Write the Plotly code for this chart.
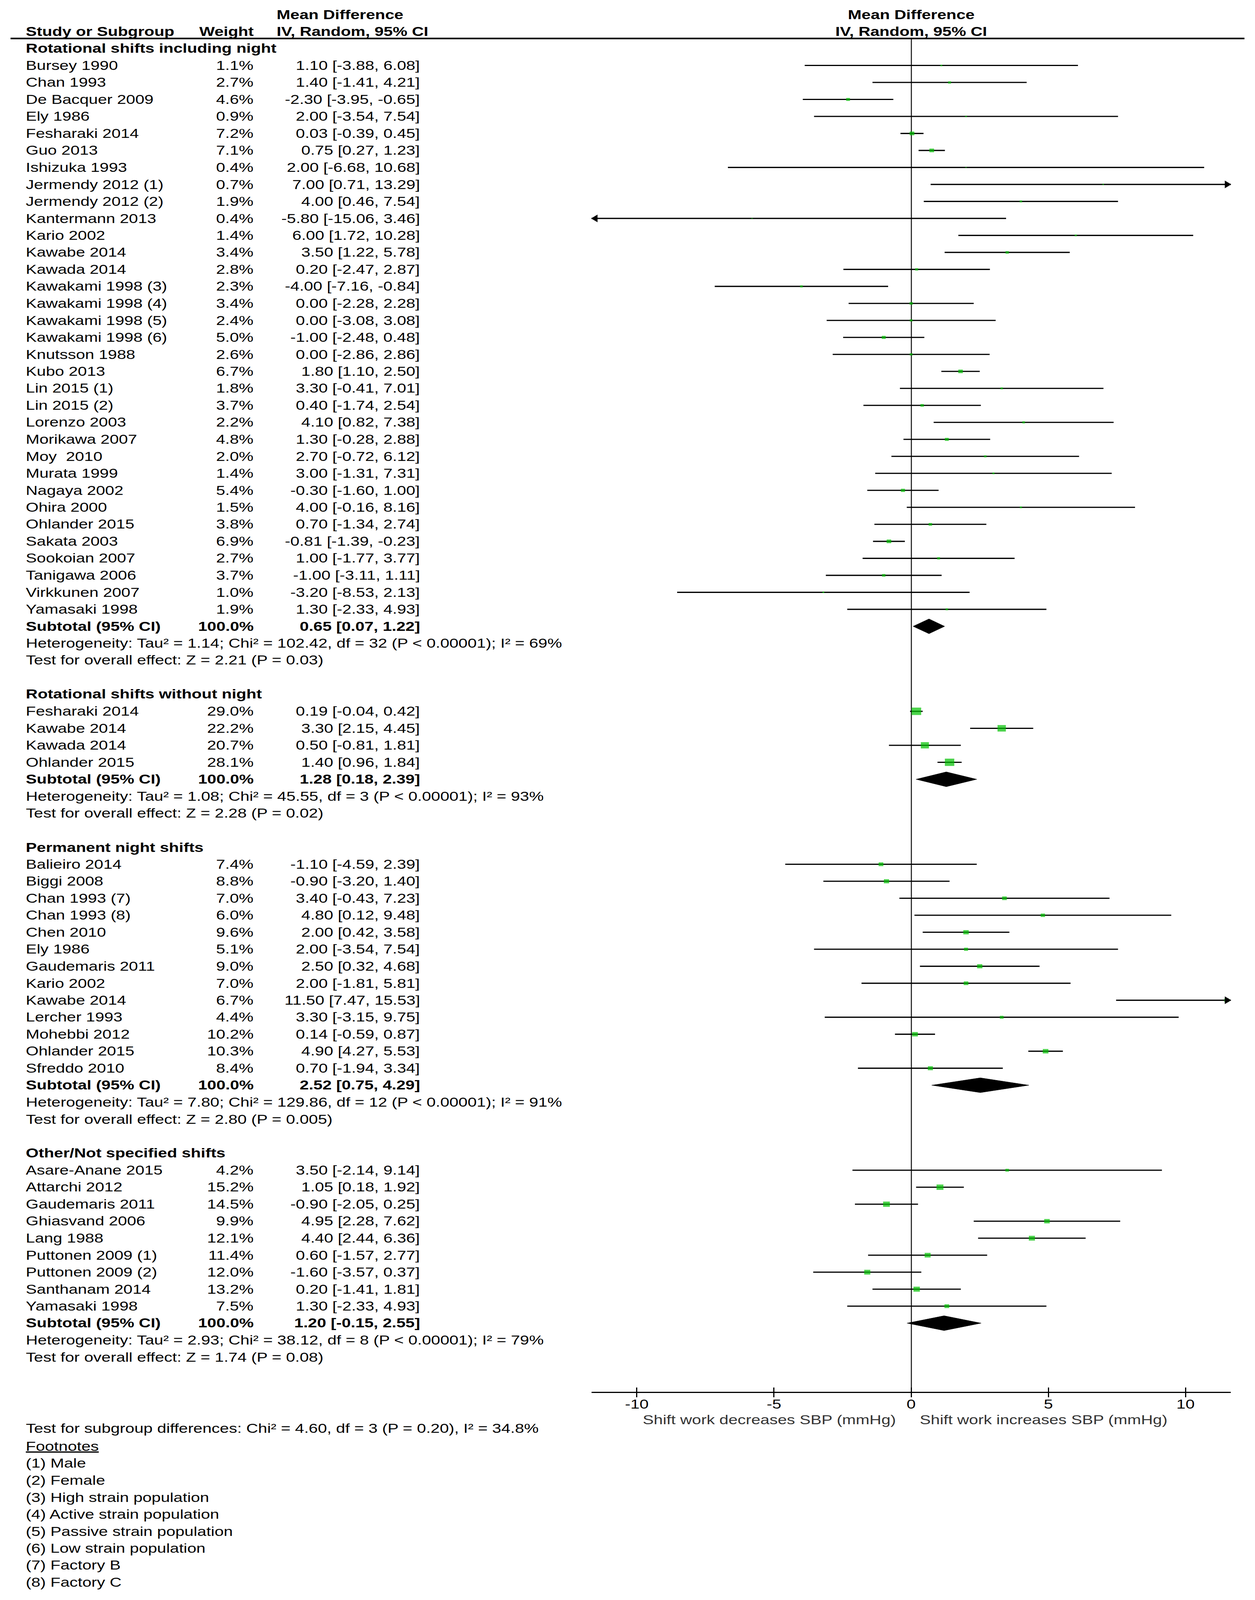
import plotly.graph_objects as go
import math

# ---------------- data ----------------
g1_title = "Rotational shifts including night"
g1_studies = ["Bursey 1990", "Chan 1993", "De Bacquer 2009", "Ely 1986", "Fesharaki 2014", "Guo 2013",
              "Ishizuka 1993", "Jermendy 2012 (1)", "Jermendy 2012 (2)", "Kantermann 2013", "Kario 2002",
              "Kawabe 2014", "Kawada 2014", "Kawakami 1998 (3)", "Kawakami 1998 (4)", "Kawakami 1998 (5)",
              "Kawakami 1998 (6)", "Knutsson 1988", "Kubo 2013", "Lin 2015 (1)", "Lin 2015 (2)",
              "Lorenzo 2003", "Morikawa 2007", "Moy  2010", "Murata 1999", "Nagaya 2002", "Ohira 2000",
              "Ohlander 2015", "Sakata 2003", "Sookoian 2007", "Tanigawa 2006", "Virkkunen 2007", "Yamasaki 1998"]
g1_weight = [1.1, 2.7, 4.6, 0.9, 7.2, 7.1, 0.4, 0.7, 1.9, 0.4, 1.4, 3.4, 2.8, 2.3, 3.4, 2.4, 5.0, 2.6, 6.7,
             1.8, 3.7, 2.2, 4.8, 2.0, 1.4, 5.4, 1.5, 3.8, 6.9, 2.7, 3.7, 1.0, 1.9]
g1_md = [1.10, 1.40, -2.30, 2.00, 0.03, 0.75, 2.00, 7.00, 4.00, -5.80, 6.00, 3.50, 0.20, -4.00, 0.00, 0.00,
         -1.00, 0.00, 1.80, 3.30, 0.40, 4.10, 1.30, 2.70, 3.00, -0.30, 4.00, 0.70, -0.81, 1.00, -1.00, -3.20, 1.30]
g1_lo = [-3.88, -1.41, -3.95, -3.54, -0.39, 0.27, -6.68, 0.71, 0.46, -15.06, 1.72, 1.22, -2.47, -7.16, -2.28,
         -3.08, -2.48, -2.86, 1.10, -0.41, -1.74, 0.82, -0.28, -0.72, -1.31, -1.60, -0.16, -1.34, -1.39, -1.77,
         -3.11, -8.53, -2.33]
g1_hi = [6.08, 4.21, -0.65, 7.54, 0.45, 1.23, 10.68, 13.29, 7.54, 3.46, 10.28, 5.78, 2.87, -0.84, 2.28, 3.08,
         0.48, 2.86, 2.50, 7.01, 2.54, 7.38, 2.88, 6.12, 7.31, 1.00, 8.16, 2.74, -0.23, 3.77, 1.11, 2.13, 4.93]
g1_total = [0.65, 0.07, 1.22]
g1_het = "Heterogeneity: Tau² = 1.14; Chi² = 102.42, df = 32 (P < 0.00001); I² = 69%"
g1_test = "Test for overall effect: Z = 2.21 (P = 0.03)"

g2_title = "Rotational shifts without night"
g2_studies = ["Fesharaki 2014", "Kawabe 2014", "Kawada 2014", "Ohlander 2015"]
g2_weight = [29.0, 22.2, 20.7, 28.1]
g2_md = [0.19, 3.30, 0.50, 1.40]
g2_lo = [-0.04, 2.15, -0.81, 0.96]
g2_hi = [0.42, 4.45, 1.81, 1.84]
g2_total = [1.28, 0.18, 2.39]
g2_het = "Heterogeneity: Tau² = 1.08; Chi² = 45.55, df = 3 (P < 0.00001); I² = 93%"
g2_test = "Test for overall effect: Z = 2.28 (P = 0.02)"

g3_title = "Permanent night shifts"
g3_studies = ["Balieiro 2014", "Biggi 2008", "Chan 1993 (7)", "Chan 1993 (8)", "Chen 2010", "Ely 1986",
              "Gaudemaris 2011", "Kario 2002", "Kawabe 2014", "Lercher 1993", "Mohebbi 2012",
              "Ohlander 2015", "Sfreddo 2010"]
g3_weight = [7.4, 8.8, 7.0, 6.0, 9.6, 5.1, 9.0, 7.0, 6.7, 4.4, 10.2, 10.3, 8.4]
g3_md = [-1.10, -0.90, 3.40, 4.80, 2.00, 2.00, 2.50, 2.00, 11.50, 3.30, 0.14, 4.90, 0.70]
g3_lo = [-4.59, -3.20, -0.43, 0.12, 0.42, -3.54, 0.32, -1.81, 7.47, -3.15, -0.59, 4.27, -1.94]
g3_hi = [2.39, 1.40, 7.23, 9.48, 3.58, 7.54, 4.68, 5.81, 15.53, 9.75, 0.87, 5.53, 3.34]
g3_total = [2.52, 0.75, 4.29]
g3_het = "Heterogeneity: Tau² = 7.80; Chi² = 129.86, df = 12 (P < 0.00001); I² = 91%"
g3_test = "Test for overall effect: Z = 2.80 (P = 0.005)"

g4_title = "Other/Not specified shifts"
g4_studies = ["Asare-Anane 2015", "Attarchi 2012", "Gaudemaris 2011", "Ghiasvand 2006", "Lang 1988",
              "Puttonen 2009 (1)", "Puttonen 2009 (2)", "Santhanam 2014", "Yamasaki 1998"]
g4_weight = [4.2, 15.2, 14.5, 9.9, 12.1, 11.4, 12.0, 13.2, 7.5]
g4_md = [3.50, 1.05, -0.90, 4.95, 4.40, 0.60, -1.60, 0.20, 1.30]
g4_lo = [-2.14, 0.18, -2.05, 2.28, 2.44, -1.57, -3.57, -1.41, -2.33]
g4_hi = [9.14, 1.92, 0.25, 7.62, 6.36, 2.77, 0.37, 1.81, 4.93]
g4_total = [1.20, -0.15, 2.55]
g4_het = "Heterogeneity: Tau² = 2.93; Chi² = 38.12, df = 8 (P < 0.00001); I² = 79%"
g4_test = "Test for overall effect: Z = 1.74 (P = 0.08)"

tick_vals = [-10, -5, 0, 5, 10]
tick_text = ["-10", "-5", "0", "5", "10"]
x_range = [-11.65, 11.65]
label_left = "Shift work decreases SBP (mmHg)"
label_right = "Shift work increases SBP (mmHg)"
subgroup_test = "Test for subgroup differences: Chi² = 4.60, df = 3 (P = 0.20), I² = 34.8%"
footnotes = ["(1) Male", "(2) Female", "(3) High strain population", "(4) Active strain population",
             "(5) Passive strain population", "(6) Low strain population", "(7) Factory B", "(8) Factory C"]

groups = [
    dict(title=g1_title, studies=g1_studies, weight=g1_weight, md=g1_md, lo=g1_lo, hi=g1_hi,
         total=g1_total, het=g1_het, test=g1_test),
    dict(title=g2_title, studies=g2_studies, weight=g2_weight, md=g2_md, lo=g2_lo, hi=g2_hi,
         total=g2_total, het=g2_het, test=g2_test),
    dict(title=g3_title, studies=g3_studies, weight=g3_weight, md=g3_md, lo=g3_lo, hi=g3_hi,
         total=g3_total, het=g3_het, test=g3_test),
    dict(title=g4_title, studies=g4_studies, weight=g4_weight, md=g4_md, lo=g4_lo, hi=g4_hi,
         total=g4_total, het=g4_het, test=g4_test),
]

# ---------------- layout geometry (pixels) ----------------
W, H = 3212, 5284
ROW0 = 160.0      # centre of first row
ROWH = 56.13      # row pitch
RULE_PY = 127.0   # header rule
AXIS_PY = 4596.0  # x-axis line
PLOT_X0, PLOT_X1 = 1514.0, 3150.0
X_NAME, X_WEIGHT, X_CI = 64.0, 651.0, 1077.0
FONT = "Liberation Sans, Arial, sans-serif"
FS = 42
GREEN = "#00C000"


def px(x):
    return x / W


def py(y):
    return 1 - y / H


def row_py(r):
    return ROW0 + r * ROWH


annotations = []


def text(x, y, s, anchor="left", bold=False, xref="paper", yref="y", color="#000000", size=FS):
    annotations.append(dict(x=x, y=y, xref=xref, yref=yref, text=("<b>%s</b>" % s) if bold else s,
                            showarrow=False, xanchor=anchor, yanchor="middle",
                            font=dict(family=FONT, size=size, color=color)))


# header
text(px(X_CI - 371), py(48), "Mean Difference", bold=True, yref="paper")
text(px(X_NAME), py(104), "Study or Subgroup", bold=True, yref="paper")
text(px(X_WEIGHT), py(104), "Weight", anchor="right", bold=True, yref="paper")
text(px(X_CI - 371), py(104), "IV, Random, 95% CI", bold=True, yref="paper")
text(0, py(48), "Mean Difference", anchor="center", bold=True, xref="x", yref="paper")
text(0, py(104), "IV, Random, 95% CI", anchor="center", bold=True, xref="x", yref="paper")

# rows
line_x, line_y = [], []
sq_x, sq_y, sq_s = [], [], []
arr_r_x, arr_r_y, arr_l_x, arr_l_y = [], [], [], []
dia_traces = []
r = 0
for g in groups:
    text(px(X_NAME), r, g["title"], bold=True)
    r += 1
    for name, w, m, lo, hi in zip(g["studies"], g["weight"], g["md"], g["lo"], g["hi"]):
        text(px(X_NAME), r, name)
        text(px(X_WEIGHT), r, "%.1f%%" % w, anchor="right")
        text(px(X_CI), r, "%.2f [%.2f, %.2f]" % (m, lo, hi), anchor="right")
        line_x += [lo, hi, None]
        line_y += [r, r, None]
        sq_x.append(m)
        sq_y.append(r)
        sq_s.append(max(3.0, 4.55 * math.sqrt(w)))
        if hi > x_range[1]:
            arr_r_x.append(x_range[1] - 0.14)
            arr_r_y.append(r)
        if lo < x_range[0]:
            arr_l_x.append(x_range[0] + 0.14)
            arr_l_y.append(r)
        r += 1
    est, tlo, thi = g["total"]
    text(px(X_NAME), r, "Subtotal (95% CI)", bold=True)
    text(px(X_WEIGHT), r, "100.0%", anchor="right", bold=True)
    text(px(X_CI), r, "%.2f [%.2f, %.2f]" % (est, tlo, thi), anchor="right", bold=True)
    hh = 0.435
    dia_traces.append(go.Scatter(x=[tlo, est, thi, est, tlo], y=[r, r - hh, r, r + hh, r],
                                 mode="lines", fill="toself", fillcolor="#000000",
                                 line=dict(color="#000000", width=1), hoverinfo="skip", showlegend=False))
    r += 1
    text(px(X_NAME), r, g["het"])
    r += 1
    text(px(X_NAME), r, g["test"])
    r += 2

# footer
text(px(2295), py(4688), label_left, anchor="right", yref="paper", color="#333333")
text(px(2352), py(4688), label_right, anchor="left", yref="paper", color="#333333")
text(px(X_NAME), py(row_py(81.2)), subgroup_test, yref="paper")
text(px(X_NAME), py(row_py(82.25)), "<u>Footnotes</u>", yref="paper")
for i, f in enumerate(footnotes):
    text(px(X_NAME), py(row_py(83.25 + i)), f, yref="paper")

fig = go.Figure()
fig.add_trace(go.Scatter(x=line_x, y=line_y, mode="lines", line=dict(color="#000000", width=4),
                         hoverinfo="skip", showlegend=False))
fig.add_trace(go.Scatter(x=sq_x, y=sq_y, mode="markers",
                         marker=dict(symbol="square", size=sq_s, color=GREEN, line=dict(width=0)),
                         hoverinfo="skip", showlegend=False))
fig.add_trace(go.Scatter(x=arr_r_x, y=arr_r_y, mode="markers", cliponaxis=False,
                         marker=dict(symbol="triangle-right", size=22, color="#000000"),
                         hoverinfo="skip", showlegend=False))
fig.add_trace(go.Scatter(x=arr_l_x, y=arr_l_y, mode="markers", cliponaxis=False,
                         marker=dict(symbol="triangle-left", size=22, color="#000000"),
                         hoverinfo="skip", showlegend=False))
for t in dia_traces:
    fig.add_trace(t)
fig.add_trace(go.Scatter(x=[None], y=[None], xaxis="x2", hoverinfo="skip", showlegend=False))

y_top = (RULE_PY - ROW0) / ROWH
y_bot = (AXIS_PY - ROW0) / ROWH

fig.update_layout(
    width=W, height=H, margin=dict(l=0, r=0, t=0, b=0),
    paper_bgcolor="white", plot_bgcolor="white",
    font=dict(family=FONT, size=FS, color="#000000"),
    showlegend=False,
    xaxis=dict(domain=[px(PLOT_X0), px(PLOT_X1)], range=x_range, showgrid=False,
               zeroline=True, zerolinecolor="#333333", zerolinewidth=3,
               showline=True, linecolor="#000000", linewidth=4,
               tickmode="array", tickvals=tick_vals, ticktext=tick_text,
               ticks="outside", ticklen=15, tickwidth=3, tickcolor="#000000",
               ticklabelstandoff=-14,
               tickfont=dict(family=FONT, size=FS, color="#000000"), fixedrange=True),
    xaxis2=dict(domain=[px(PLOT_X0), px(PLOT_X1)], range=x_range, overlaying="x", anchor="y",
                side="bottom", showgrid=False, zeroline=False, showline=False,
                tickmode="array", tickvals=tick_vals, ticks="inside", ticklen=14, tickwidth=3,
                tickcolor="#000000", showticklabels=False),
    yaxis=dict(domain=[py(AXIS_PY), py(RULE_PY)], range=[y_bot, y_top], showgrid=False,
               zeroline=False, showline=False, showticklabels=False, ticks="", fixedrange=True),
    annotations=annotations,
    shapes=[dict(type="line", xref="paper", yref="paper", x0=px(27), x1=px(3185),
                 y0=py(RULE_PY), y1=py(RULE_PY), line=dict(color="#000000", width=5))],
)

# Remove the default page margin; if the browser viewport is shorter than the
# figure, fit the whole figure into the visible window.
fit_js = ("document.body.style.margin='0';"
          "var gd=document.getElementById('{plot_id}');"
          "var s=window.innerHeight/%d;"
          "if(s<1){gd.style.transformOrigin='0 0';gd.style.transform='scale(1,'+s+')';"
          "document.body.style.overflow='hidden';}" % H)
fig.write_html("out.html", post_script=fit_js, config={"displayModeBar": False, "staticPlot": True})
